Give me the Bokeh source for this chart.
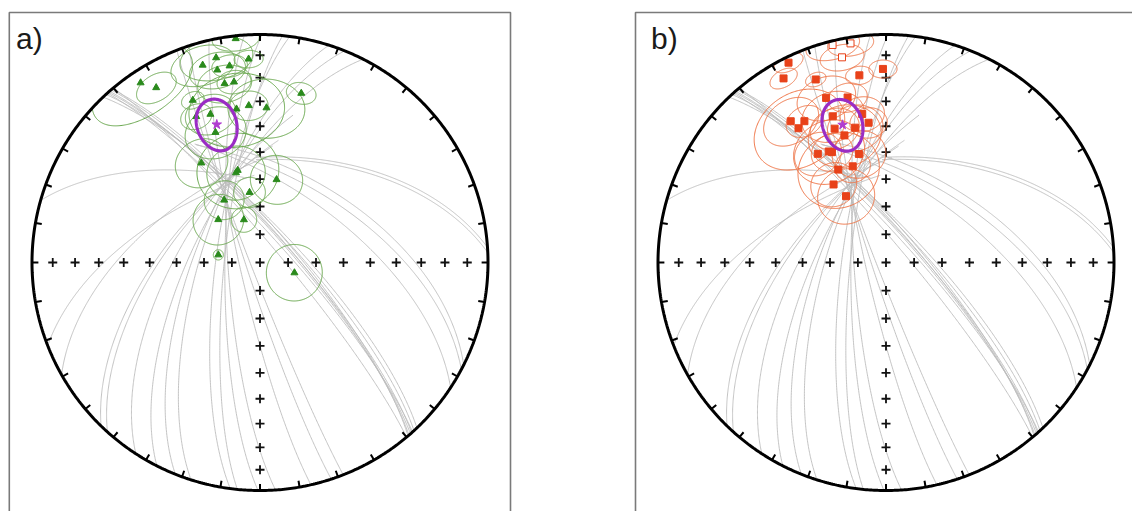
import numpy as np
from bokeh.plotting import figure
from bokeh.models import Range1d
from bokeh.embed import file_html
from bokeh.resources import INLINE
from bokeh.core.properties import value

# ---------------- data ----------------
# panel a) site-mean directions: declination, inclination, alpha95
a_dec = [353.8, 347.9, 356.8, 343.8, 351.2, 347.5, 326.4, 329.3, 348.8, 351.8, 13.7, 337.5,
         351.3, 355.9, 2.4, 336.4, 341.5, 341.1, 329.5, 346.4, 345.0, 11.3, 351.5, 330.1,
         315.8, 339.4, 280.4, 106.6]
a_inc = [1.4, 9.0, 11.6, 10.8, 13.8, 14.6, 6.0, 11.8, 21.1, 21.1, 24.6, 24.0,
         32.4, 31.6, 32.6, 30.8, 32.0, 39.5, 48.0, 55.8, 56.5, 59.6, 64.6, 64.2,
         68.6, 73.7, 74.9, 77.2]
a_a95 = [6, 10, 4, 9, 5, 8, 15, 6, 8, 5, 4.5, 3.5,
         15, 6, 12, 5, 8, 10, 9, 14, 10, 9, 5.5, 7,
         9, 4.5, 1.8, 10]

# panel b) site-mean directions (negative inclination = upper hemisphere)
b_dec = [346.2, 350.8, 347.9, 334.0, 330.9, 339.0, 351.9, 359.1, 340.0, 346.9, 340.0, 350.9,
         326.0, 330.0, 326.9, 339.0, 347.1, 352.9, 341.9, 327.9, 332.7, 333.9, 346.0, 340.9,
         332.8, 326.1, 328.9]
b_inc = [-2.0, -3.0, -8.8, 2.8, 8.4, 15.1, 18.2, 16.2, 24.2, 26.6, 32.3, 34.4,
         26.2, 29.2, 30.4, 37.2, 39.2, 38.2, 41.0, 43.1, 44.4, 45.2, 49.4, 53.2,
         52.2, 56.1, 62.2]
b_a95 = [7, 6, 6, 4, 4, 3, 4, 4, 9, 6, 10, 7,
         9, 6, 15, 8, 9, 6, 12, 8, 12, 7, 9, 6,
         14, 8, 10]

# overall means (a, b) with confidence ellipse semi-angles (radial, tangential)
mean_dec = [342.6, 342.5]
mean_inc = [36.7, 36.8]
mean_semi_rad = [10.5, 10.5]
mean_semi_tan = [6.3, 6.3]

# remagnetisation great circles: start azimuth on primitive, a direction on the circle, extension beyond it
gc_az = [139.2, 138.7, 138.3, 138.0, 136.5, 140.0, 137.5, 139.5, 116.7, 118.0, 123.3, 86.2, 87.5,
         285.8, 248.6, 240.5, 224.2, 222.0, 206.9, 201.8, 197.6, 187.5, 185.7, 176.1, 167.1, 161.8,
         158.6, 180.5, 213.0]
gc_dec = [331.9, 332.7, 334.5, 334.0, 339.0, 329.4, 337.1, 334.9, 5.9, 3.2, 0.3, 21.1, 21.7,
          321.8, 309.1, 320.4, 318.7, 324.7, 326.2, 332.5, 339.0, 343.4, 344.9, 334.4, 335.4, 334.5,
          334.2, 337.8, 325.8]
gc_inc = [48.0, 52.6, 55.2, 59.2, 58.4, 53.4, 57.1, 51.2, 52.9, 55.0, 56.8, 49.2, 50.2,
          47.4, 56.2, 56.2, 60.4, 60.5, 63.2, 60.8, 58.4, 55.4, 57.6, 61.3, 57.6, 55.2,
          53.0, 60.1, 60.9]
gc_ext = [180, 180, 180, 180, 180, 180, 180, 180, 25, 25, 25, 15, 15,
          20, 25, 25, 30, 30, 180, 180, 180, 180, 180, 180, 180, 180,
          180, 180, 40]

grid_step = 10  # degrees between primitive ticks and axis crosses


# ---------------- helpers ----------------
def vec(dec, inc):
    d = np.radians(dec)
    i = np.radians(inc)
    return np.array([np.cos(i) * np.cos(d), np.cos(i) * np.sin(d), np.sin(i)])


def proj(pts):
    # pts: (N,3) north, east, down -> equal-area (Schmidt) lower hemisphere, unit radius
    n, e, d = pts[:, 0], pts[:, 1], pts[:, 2]
    s = np.sqrt(1.0 + np.abs(d))
    return e / s, n / s


def split_lower(pts):
    ok = pts[:, 2] >= -1e-9
    segs = []
    cur = []
    for k in range(len(pts)):
        if ok[k]:
            cur.append(pts[k])
        else:
            if len(cur) > 1:
                segs.append(np.array(cur))
            cur = []
    if len(cur) > 1:
        segs.append(np.array(cur))
    return segs


def basis(dec, inc):
    d = np.radians(dec)
    i = np.radians(inc)
    e_dec = np.array([-np.sin(d), np.cos(d), 0.0])
    e_inc = np.array([-np.sin(i) * np.cos(d), -np.sin(i) * np.sin(d), np.cos(i)])
    return e_inc, e_dec


def small_circle(dec, inc, a95, n=240):
    D = vec(dec, abs(inc))
    e_inc, e_dec = basis(dec, abs(inc))
    a = np.radians(a95)
    ph = np.linspace(0, 2 * np.pi, n)
    pts = (np.cos(a) * D[None, :] +
           np.sin(a) * (np.cos(ph)[:, None] * e_inc[None, :] + np.sin(ph)[:, None] * e_dec[None, :]))
    return split_lower(pts)


def cone_ellipse(dec, inc, sr, st, n=240):
    D = vec(dec, inc)
    e_inc, e_dec = basis(dec, inc)
    ph = np.linspace(0, 2 * np.pi, n)
    pts = (D[None, :] + np.tan(np.radians(sr)) * np.cos(ph)[:, None] * e_inc[None, :]
           + np.tan(np.radians(st)) * np.sin(ph)[:, None] * e_dec[None, :])
    pts /= np.linalg.norm(pts, axis=1)[:, None]
    return pts


def gc_arc(az, dec, inc, ext, n=300):
    A = vec(az, 0.0)
    P = vec(dec, inc)
    c = float(np.dot(A, P))
    ang = np.arccos(np.clip(c, -1, 1))
    w = P - c * A
    w /= np.linalg.norm(w)
    tmax = min(ang + np.radians(ext), np.pi)
    t = np.linspace(0, tmax, n)
    return np.outer(np.cos(t), A) + np.outer(np.sin(t), w)


# ---------------- figure ----------------
R_PX = 228.0
W, H = 1132, 511
x0 = (0 - 259.5) / R_PX
x1 = x0 + W / R_PX
y1 = (262 - 0) / R_PX
y0 = y1 - H / R_PX
OXB = 626.0 / R_PX

p = figure(width=W, height=H, x_range=Range1d(x0, x1), y_range=Range1d(y0, y1),
           output_backend="svg", toolbar_location=None, min_border=0,
           x_axis_location=None, y_axis_location=None)
p.grid.visible = False
p.outline_line_color = None
p.background_fill_color = "white"
p.border_fill_color = "white"

# panel frames
yt = (262 - 12) / R_PX
xa_l = (8.8 - 259.5) / R_PX
xa_r = (510 - 259.5) / R_PX
xb_l = (635 - 259.5) / R_PX
p.line([xa_l, xa_l, xa_r, xa_r], [-1.5, yt, yt, -1.5], line_color="#7a7a7a", line_width=1.6)
p.line([xb_l, xb_l, 5.0], [-1.5, yt, yt], line_color="#7a7a7a", line_width=1.6)

p.text(x=[(15.5 - 259.5) / R_PX, (650.5 - 259.5) / R_PX], y=[(262 - 38.0) / R_PX] * 2,
       text=["a)", "b)"], text_font=value("Liberation Sans"), text_font_size="30px",
       text_baseline="alphabetic", text_align="left", text_color="#1a1a1a")


def draw_panel(ox, decs, incs, a95s, marker, pt_color, circ_color, mi):
    # great circles
    xs, ys = [], []
    for az, dc, ic, ex in zip(gc_az, gc_dec, gc_inc, gc_ext):
        x, y = proj(gc_arc(az, dc, ic, ex))
        xs.append(list(x + ox))
        ys.append(list(y))
    p.multi_line(xs, ys, line_color="#bdbdbd", line_width=1.0, line_alpha=0.9)

    # axis crosses (equal-area positions of 10 degree steps)
    rr = [np.sqrt(2) * np.sin(np.radians(k * grid_step / 2)) for k in range(1, 9)]
    cx = [ox]
    cy = [0.0]
    for r in rr:
        cx += [ox + r, ox - r, ox, ox]
        cy += [0.0, 0.0, r, -r]
    p.scatter(cx, cy, marker="cross", size=9, line_color="#111111", line_width=1.8)

    # confidence circles
    xs, ys = [], []
    for dc, ic, a in zip(decs, incs, a95s):
        for seg in small_circle(dc, ic, a):
            x, y = proj(seg)
            xs.append(list(x + ox))
            ys.append(list(y))
    p.multi_line(xs, ys, line_color=circ_color, line_width=1.0)

    # points
    px_, py_, fill = [], [], []
    for dc, ic in zip(decs, incs):
        x, y = proj(vec(dc, abs(ic))[None, :])
        px_.append(float(x[0]) + ox)
        py_.append(float(y[0]))
        fill.append(pt_color if ic >= 0 else "white")
    p.scatter(px_, py_, marker=marker, size=7, fill_color=fill, line_color=pt_color, line_width=1.0)

    # mean + ellipse
    ex, ey = proj(cone_ellipse(mean_dec[mi], mean_inc[mi], mean_semi_rad[mi], mean_semi_tan[mi]))
    p.line(list(ex + ox), list(ey), line_color="#9a2cc4", line_width=3.2)
    mx, my = proj(vec(mean_dec[mi], mean_inc[mi])[None, :])
    p.scatter([float(mx[0]) + ox], [float(my[0])], marker="star", size=10,
              fill_color="#b03cd0", line_color="#b03cd0")

    # primitive and ticks
    th = np.linspace(0, 2 * np.pi, 721)
    p.line(list(ox + np.cos(th)), list(np.sin(th)), line_color="#000000", line_width=3)
    txs, tys = [], []
    for k in range(0, 360, grid_step):
        a = np.radians(k)
        txs.append([ox + np.sin(a), ox + 0.972 * np.sin(a)])
        tys.append([np.cos(a), 0.972 * np.cos(a)])
    p.multi_line(txs, tys, line_color="#000000", line_width=2)


draw_panel(0.0, a_dec, a_inc, a_a95, "triangle", "#2a8a1c", "#6aa84f", 0)
draw_panel(OXB, b_dec, b_inc, b_a95, "square", "#e8421a", "#ef7547", 1)

open("out.html", "w").write(file_html(p, INLINE))
